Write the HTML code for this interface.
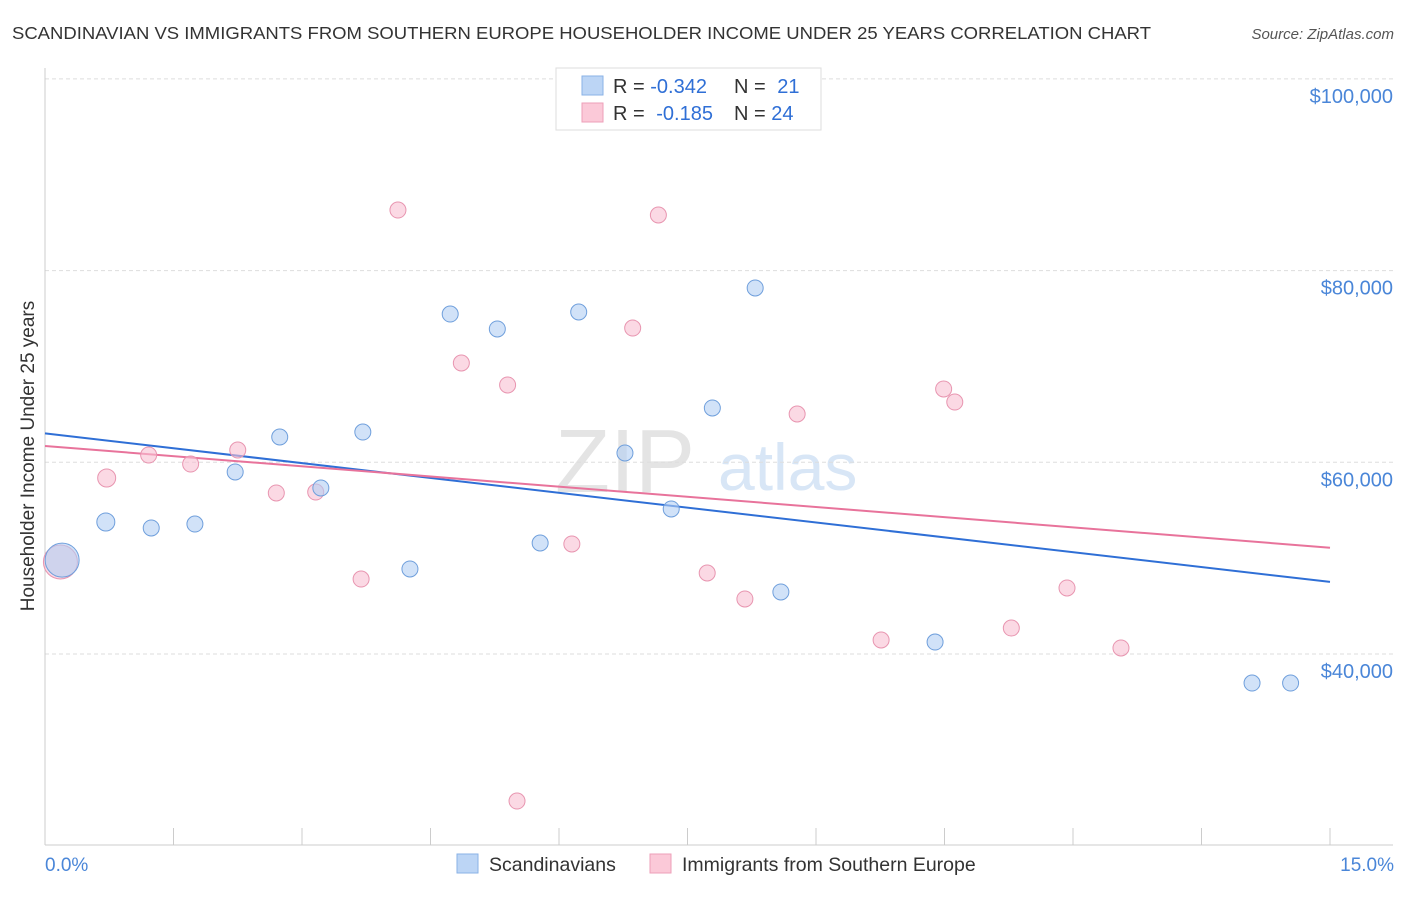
<!DOCTYPE html>
<html><head><meta charset="utf-8"><style>
body{margin:0;background:#fff;font-family:"Liberation Sans",sans-serif;}
svg text{font-family:"Liberation Sans",sans-serif;}
</style></head><body>
<svg id="chart" width="1406" height="892" xmlns="http://www.w3.org/2000/svg">
<text x="12" y="39" font-size="17.5" fill="#333" textLength="1139" lengthAdjust="spacingAndGlyphs">SCANDINAVIAN VS IMMIGRANTS FROM SOUTHERN EUROPE HOUSEHOLDER INCOME UNDER 25 YEARS CORRELATION CHART</text>
<text x="1394" y="39" font-size="15" fill="#555" font-style="italic" text-anchor="end">Source: ZipAtlas.com</text>
<g>
<text x="555" y="492" font-size="90" fill="#e4e4e4" font-family="Liberation Serif">ZIP</text>
<text x="718" y="490" font-size="66" fill="#d8e6f6">atlas</text>
</g>
<g id="grid"></g>
<g id="axes"></g>
<g id="lines"></g>
<g id="points"></g>
<text transform="translate(34,456) rotate(-90)" font-size="19" fill="#333" text-anchor="middle">Householder Income Under 25 years</text>
<text x="45" y="871" font-size="19" fill="#4a86d8">0.0%</text>
<text x="1394" y="871" font-size="19" fill="#4a86d8" text-anchor="end">15.0%</text>
<g>
<rect x="556" y="68" width="265" height="62" fill="#fff" stroke="#ddd"/>
<rect x="582" y="76" width="21" height="19" fill="#bcd5f5" stroke="#8ab2e6"/>
<rect x="582" y="103" width="21" height="19" fill="#fbc9d8" stroke="#ee9fb8"/>
<text x="613" y="93" font-size="20" fill="#333">R = <tspan fill="#2f6fd6">-0.342</tspan></text>
<text x="734" y="93" font-size="20" fill="#333">N = <tspan fill="#2f6fd6" dx="6">21</tspan></text>
<text x="613" y="120" font-size="20" fill="#333">R = <tspan fill="#2f6fd6" dx="6">-0.185</tspan></text>
<text x="734" y="120" font-size="20" fill="#333">N = <tspan fill="#2f6fd6">24</tspan></text>
</g>
<g>
<rect x="457" y="854" width="21" height="19" fill="#bcd5f5" stroke="#8ab2e6"/>
<text x="489" y="871" font-size="19.5" fill="#333">Scandinavians</text>
<rect x="650" y="854" width="21" height="19" fill="#fbc9d8" stroke="#ee9fb8"/>
<text x="682" y="871" font-size="19.5" fill="#333">Immigrants from Southern Europe</text>
</g>
</svg>
<script>
const blueX=[0.2,0.71,1.24,1.75,2.22,2.74,3.22,3.71,4.26,4.73,5.28,5.78,6.23,6.77,7.31,7.79,8.29,8.59,10.39,14.09,14.54];
const blueY=[49800,53770,53150,53560,58990,62640,57320,63160,48870,75470,73910,51580,75680,60970,55130,65670,78190,46470,41250,36970,36970];
const blueR=[17,9,8,8,8,8,8,8,8,8,8,8,8,8,8,8,8,8,8,8,8];
const pinkX=[0.18,0.72,1.21,1.70,2.25,2.70,3.16,3.69,4.12,4.86,5.40,5.51,6.15,6.86,7.16,7.73,8.17,8.78,9.76,10.49,10.62,11.28,11.93,12.56];
const pinkY=[49600,58360,60760,59820,61280,56800,56900,47820,86320,70360,68070,24660,51480,74010,85800,48450,45740,65040,41460,67650,66290,42710,46890,40630];
const pinkR=[17,9,8,8,8,8,8,8,8,8,8,8,8,8,8,8,8,8,8,8,8,8,8,8];
const yTicks=[40000,60000,80000,100000];
const yTickLabels=["$40,000","$60,000","$80,000","$100,000"];
const xTicks=[0,1.5,3,4.5,6,7.5,9,10.5,12,13.5,15];
const NS="http://www.w3.org/2000/svg";
const xs=v=>45+v*(1285/15);
const ys=v=>654-(v-40000)*(191.7/20000);
function mk(tag,attrs,parent){const e=document.createElementNS(NS,tag);for(const k in attrs)e.setAttribute(k,attrs[k]);document.getElementById(parent).appendChild(e);return e;}
yTicks.forEach((t,i)=>{
  const g=mk('line',{x1:45,x2:1393,y1:ys(t),y2:ys(t),stroke:'#ddd','stroke-dasharray':'4,3'},'grid');
  
  
  const tx=mk('text',{x:1393,y:ys(t)+24,'font-size':20,fill:'#4a86d8','text-anchor':'end'},'grid');
  tx.textContent=yTickLabels[i];
  
  
});
let a=mk('line',{x1:45,x2:45,y1:68,y2:845,stroke:'#ccc'},'axes');


a=mk('line',{x1:45,x2:1393,y1:845,y2:845,stroke:'#ccc'},'axes');


xTicks.forEach(t=>{
  const l=mk('line',{x1:xs(t),x2:xs(t),y1:828,y2:845,stroke:'#ccc'},'axes');
  
  
});
function reg(X,Y){const n=X.length;let mx=0,my=0;X.forEach((x,i)=>{mx+=x;my+=Y[i]});mx/=n;my/=n;let sxy=0,sxx=0;X.forEach((x,i)=>{sxy+=(x-mx)*(Y[i]-my);sxx+=(x-mx)**2});const b=sxy/sxx;return [my-b*mx,b];}
function trend(X,Y,c,name){const [a0,b]=reg(X,Y);const l=mk('line',{x1:xs(0),y1:ys(a0),x2:xs(15),y2:ys(a0+b*15),stroke:c,'stroke-width':2},'lines');
  
  }
trend(blueX,blueY,'#2f6fd6','trend-line-scandinavians');
trend(pinkX,pinkY,'#e8739b','trend-line-southern-europe');
function pts(X,Y,R,fill,stroke,name){X.forEach((x,i)=>{const c=mk('circle',{cx:xs(x),cy:ys(Y[i]),r:R[i],fill:fill,'fill-opacity':0.6,stroke:stroke,'stroke-width':1},'points');
  
  });}
pts(pinkX,pinkY,pinkR,'#f9c0d2','#e895b0','point-southern-europe');
pts(blueX,blueY,blueR,'#b3cff3','#6f9fdc','point-scandinavian');
</script>
</body></html>
